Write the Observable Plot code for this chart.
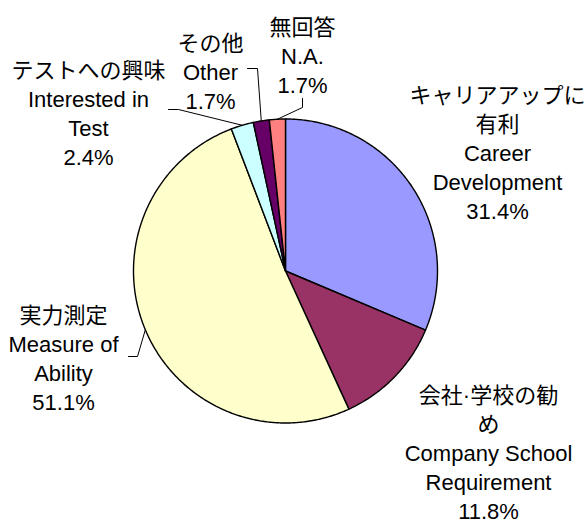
<!DOCTYPE html>
<html>
<head>
<meta charset="utf-8">
<script src="https://cdn.jsdelivr.net/npm/d3@7"></script>
<script src="https://cdn.jsdelivr.net/npm/@observablehq/plot@0.6"></script>
<style>
  html, body { margin: 0; padding: 0; background: #fff; }
  svg { display: block; }
</style>
</head>
<body>
<div id="chart"></div>
<script>
// ---- data ----
const categoriesJa = ["キャリアアップに\n有利", "会社·学校の勧\nめ", "実力測定", "テストへの興味", "その他", "無回答"];
const categoriesEn = ["Career\nDevelopment", "Company School\nRequirement", "Measure of\nAbility", "Interested in\nTest", "Other", "N.A."];
const values = [31.4, 11.8, 51.1, 2.4, 1.7, 1.7];
const colors = ["#9999FF", "#993366", "#FFFFCC", "#CCFFFF", "#660066", "#FF8080"];

// ---- layout ----
const W = 586, H = 526;
const cx = 285, cy = 270.5, R = 152;
// label block centres (pixel units) and leader elbows (null = no leader)
const labelPos = [
  {x: 497, y: 151, leader: null},
  {x: 488, y: 451, leader: null},
  {x: 63,  y: 357, leader: [[128, 356], [137, 356]]},
  {x: 88,  y: 111.5, leader: [[168, 109], [178, 109]]},
  {x: 210, y: 70,  leader: [[247, 68], [257, 68]]},
  {x: 302, y: 54,  leader: [[302, 98], [302, 107]]}
];

const arcs = d3.pie().sort(null).value(d => d)(values);
const pt = a => [cx + R * Math.sin(a), cy - R * Math.cos(a)];

// slice polygons
const slicePts = [];
arcs.forEach((a, i) => {
  slicePts.push({i, x: cx, y: cy});
  const n = Math.max(4, Math.ceil((a.endAngle - a.startAngle) / 0.01));
  for (let k = 0; k <= n; k++) {
    const t = a.startAngle + (a.endAngle - a.startAngle) * k / n;
    const [x, y] = pt(t);
    slicePts.push({i, x, y});
  }
});

// leader lines
const leaderPts = [];
arcs.forEach((a, i) => {
  const lp = labelPos[i];
  if (!lp.leader) return;
  lp.leader.forEach(([x, y]) => leaderPts.push({i, x, y}));
  const [ex, ey] = pt((a.startAngle + a.endAngle) / 2);
  leaderPts.push({i, x: ex, y: ey});
});

const labels = values.map((v, i) => ({
  x: labelPos[i].x,
  y: labelPos[i].y,
  text: categoriesJa[i] + "\n" + categoriesEn[i] + "\n" + v.toFixed(1) + "%"
}));

const chart = Plot.plot({
  width: W,
  height: H,
  margin: 0,
  x: {domain: [0, W], range: [0, W], axis: null},
  y: {domain: [0, H], range: [0, H], axis: null},
  color: {domain: d3.range(values.length), range: colors},
  style: {background: "#fff"},
  marks: [
    Plot.line(slicePts, {
      x: "x", y: "y", z: "i", fill: d => d.i,
      stroke: "#000", strokeWidth: 1.4, curve: "linear-closed", strokeLinejoin: "round"
    }),
    Plot.line(leaderPts, {x: "x", y: "y", z: "i", stroke: "#000", strokeWidth: 1}),
    Plot.text(labels, {
      x: "x", y: "y", text: "text",
      fontSize: 22, lineHeight: 1.32, lineAnchor: "middle", textAnchor: "middle",
      fill: "#000",
      fontFamily: "'Liberation Sans', Arial, 'Noto Sans CJK JP', sans-serif"
    })
  ]
});
document.getElementById("chart").appendChild(chart);
</script>
</body>
</html>
